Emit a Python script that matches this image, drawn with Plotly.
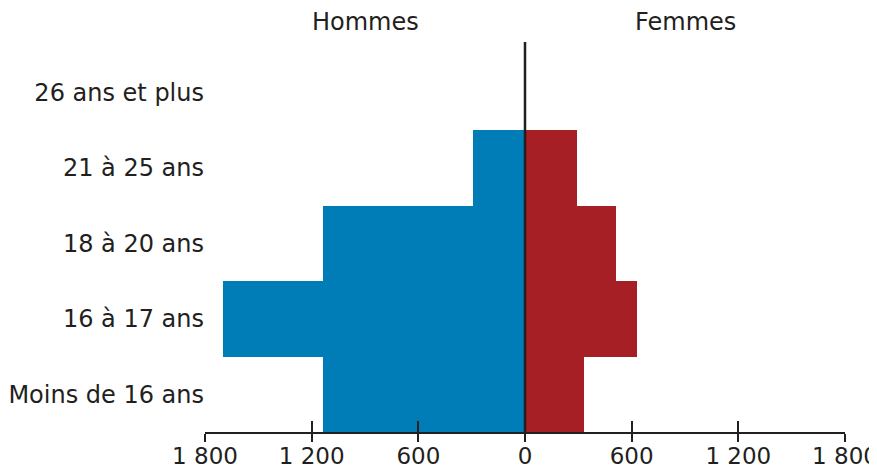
import plotly.graph_objects as go

categories = ["Moins de 16 ans", "16 à 17 ans", "18 à 20 ans", "21 à 25 ans", "26 ans et plus"]
series_names = ["Hommes", "Femmes"]
hommes = [1135, 1700, 1135, 290, 0]
femmes = [330, 632, 510, 290, 0]
tick_values = [-1800, -1200, -600, 0, 600, 1200, 1800]
tick_labels = ["1 800", "1 200", "600", "0", "600", "1 200", "1 800"]

BLUE = "#007cb7"
RED = "#a61f24"
INK = "#231f20"
FONT = "DejaVu Sans"
FS = 24

fig = go.Figure()
fig.add_trace(go.Bar(y=categories, x=[-v for v in hommes], orientation="h",
                     marker=dict(color=BLUE, line=dict(width=0)), name=series_names[0]))
fig.add_trace(go.Bar(y=categories, x=femmes, orientation="h",
                     marker=dict(color=RED, line=dict(width=0)), name=series_names[1]))
# invisible trace to activate the inside-tick overlay axis
fig.add_trace(go.Scatter(x=[tick_values[0], tick_values[-1]], y=[categories[0], categories[0]],
                         xaxis="x2", mode="markers", marker=dict(opacity=0),
                         hoverinfo="skip", showlegend=False))

# page body has an 8px margin, so margins are shifted by 8px to compensate
fig.update_layout(
    template="none",
    width=877, height=469,
    margin=dict(l=197, r=40, t=34, b=45, pad=0, autoexpand=False),
    paper_bgcolor="white", plot_bgcolor="white",
    barmode="relative", bargap=0,
    showlegend=False,
    font=dict(family=FONT, size=FS, color=INK),
    xaxis=dict(range=[-1800, 1800], tickvals=tick_values, ticktext=tick_labels,
               automargin=False, ticklabelstandoff=-6, ticklabeloverflow="allow",
               showgrid=False, zeroline=False, showline=True, linecolor=INK, linewidth=2,
               ticks="outside", ticklen=8, tickwidth=2, tickcolor=INK,
               tickfont=dict(family=FONT, size=23, color=INK), layer="above traces"),
    xaxis2=dict(range=[-1800, 1800], tickvals=tick_values, overlaying="x", anchor="y",
                side="bottom", showticklabels=False, showgrid=False, zeroline=False,
                automargin=False,
                showline=False, ticks="inside", ticklen=11, tickwidth=2, tickcolor=INK,
                layer="above traces"),
    yaxis=dict(categoryorder="array", categoryarray=categories, range=[-0.5, 4.67],
               automargin=False,
               showgrid=False, zeroline=False, showline=False, ticks="",
               tickfont=dict(family=FONT, size=FS, color=INK)),
    shapes=[dict(type="line", xref="x", yref="paper", x0=0, x1=0, y0=0, y1=1,
                 line=dict(color=INK, width=2.5), layer="above")],
    annotations=[
        dict(text=series_names[0], x=-900, xref="x", y=1.05, yref="paper",
             showarrow=False, xanchor="center", yanchor="middle",
             font=dict(family=FONT, size=FS, color=INK)),
        dict(text=series_names[1], x=900, xref="x", y=1.05, yref="paper",
             showarrow=False, xanchor="center", yanchor="middle",
             font=dict(family=FONT, size=FS, color=INK)),
    ],
)

fig.write_html("out.html")
